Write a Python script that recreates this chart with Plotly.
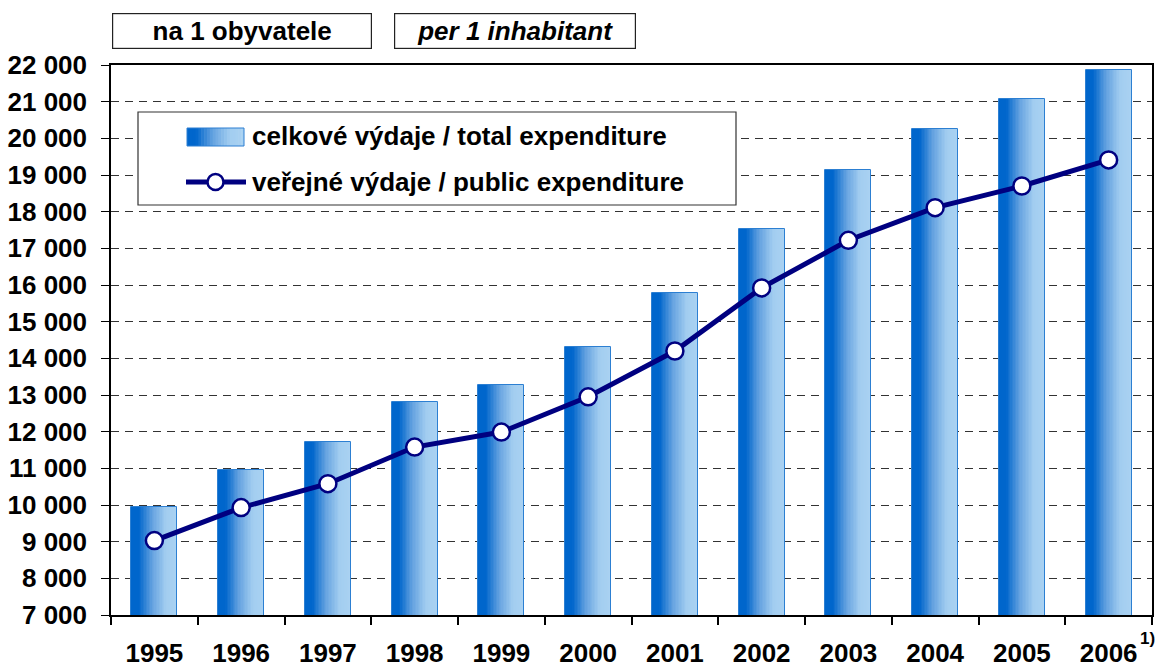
import plotly.graph_objects as go

# Per-capita expenditure, CZK
years = ["1995", "1996", "1997", "1998", "1999", "2000",
         "2001", "2002", "2003", "2004", "2005", "2006"]
total_expenditure = [9940, 10960, 11710, 12810, 13270, 14300,
                     15780, 17530, 19140, 20250, 21070, 21860]
public_expenditure = [9030, 9930, 10580, 11580, 11990, 12950,
                      14200, 15920, 17220, 18110, 18700, 19410]

label_total = "celkové výdaje / total expenditure"
label_public = "veřejné výdaje / public expenditure"
title_cz = "na 1 obyvatele"
title_en = "per 1 inhabitant"
footnote = "1)"

FONT = "Liberation Sans, Arial, sans-serif"
NAVY = "#000080"
FS = 26

# horizontal gradient used to shade the bars (left dark -> right light)
grad_stops = [(0.0, (0, 102, 204)), (0.16, (0, 102, 204)), (0.45, (100, 162, 224)),
              (0.75, (162, 205, 240)), (1.0, (170, 210, 242))]


def grad_color(t):
    for (t0, c0), (t1, c1) in zip(grad_stops[:-1], grad_stops[1:]):
        if t <= t1:
            f = 0 if t1 == t0 else (t - t0) / (t1 - t0)
            r, g, b = (round(a + (bb - a) * f) for a, bb in zip(c0, c1))
            return f"rgb({r},{g},{b})"
    r, g, b = grad_stops[-1][1]
    return f"rgb({r},{g},{b})"


fig = go.Figure()

BAR_W = 0.53
N_SLICES = 32
for i in range(N_SLICES):
    fig.add_trace(go.Bar(
        x=years, y=total_expenditure,
        base=0,
        width=BAR_W - i * BAR_W / N_SLICES,
        offset=-BAR_W / 2 + i * BAR_W / N_SLICES,
        marker=dict(color=grad_color((i + 0.5) / N_SLICES), line=dict(width=0)),
        showlegend=False, hoverinfo="skip",
    ))

# thin outline around each bar
fig.add_trace(go.Bar(
    x=years, y=total_expenditure, width=BAR_W, offset=-BAR_W / 2,
    marker=dict(color="rgba(0,0,0,0)", line=dict(color="#2C7FD2", width=1)),
    showlegend=False, name=label_total,
))

fig.add_trace(go.Scatter(
    x=years, y=public_expenditure, mode="lines+markers",
    line=dict(color=NAVY, width=5),
    marker=dict(symbol="circle", size=17, color="white",
                line=dict(color=NAVY, width=2.5)),
    showlegend=False, name=label_public,
))

# plot-area geometry in pixels (for placing the custom legend / captions)
W_PX, H_PX = 1159, 667
L, R, T, B = 111, 7, 65, 52
PW, PH = W_PX - L - R, H_PX - T - B


def px(x):
    return (x - L) / PW


def py(y):
    return (H_PX - B - y) / PH


shapes = []
annotations = []

# legend box
shapes.append(dict(type="rect", xref="paper", yref="paper",
                   x0=px(138), x1=px(736), y0=py(205), y1=py(112),
                   line=dict(color="#333333", width=1.2), fillcolor="white",
                   layer="above"))
# gradient swatch
sx0, sx1, sy0, sy1 = 187, 244, 128, 146
n_sw = 20
for i in range(n_sw):
    a = sx0 + (sx1 - sx0) * i / n_sw
    b = sx0 + (sx1 - sx0) * (i + 1) / n_sw + 0.6
    shapes.append(dict(type="rect", xref="paper", yref="paper",
                       x0=px(a), x1=px(min(b, sx1)), y0=py(sy1), y1=py(sy0),
                       line=dict(width=0), fillcolor=grad_color((i + 0.5) / n_sw),
                       layer="above"))
shapes.append(dict(type="rect", xref="paper", yref="paper",
                   x0=px(sx0), x1=px(sx1), y0=py(sy1), y1=py(sy0),
                   line=dict(color="#2C7FD2", width=1), layer="above"))
# line swatch
shapes.append(dict(type="line", xref="paper", yref="paper",
                   x0=px(186), x1=px(246), y0=py(182), y1=py(182),
                   line=dict(color=NAVY, width=5), layer="above"))
shapes.append(dict(type="circle", xref="paper", yref="paper",
                   x0=px(215.5 - 8), x1=px(215.5 + 8), y0=py(182 + 8), y1=py(182 - 8),
                   line=dict(color=NAVY, width=2.5), fillcolor="white", layer="above"))

legend_font = dict(family=FONT, size=FS, color="black")
annotations.append(dict(xref="paper", yref="paper", x=px(250), y=py(136),
                        xanchor="left", yanchor="middle", showarrow=False,
                        text=f"<b>{label_total}</b>", font=legend_font))
annotations.append(dict(xref="paper", yref="paper", x=px(250), y=py(182),
                        xanchor="left", yanchor="middle", showarrow=False,
                        text=f"<b>{label_public}</b>", font=legend_font))

# caption boxes above the plot
annotations.append(dict(xref="paper", yref="paper", x=px(241.5), y=py(30.7),
                        xanchor="center", yanchor="middle", showarrow=False,
                        text=f"<b>{title_cz}</b>", width=258, height=34, borderpad=0,
                        bordercolor="#222222", borderwidth=1.2, bgcolor="white",
                        font=dict(family=FONT, size=FS, color="black")))
annotations.append(dict(xref="paper", yref="paper", x=px(514.7), y=py(30.7),
                        xanchor="center", yanchor="middle", showarrow=False,
                        text=f"<b><i>{title_en}</i></b>", width=240, height=34, borderpad=0,
                        bordercolor="#222222", borderwidth=1.2, bgcolor="white",
                        font=dict(family=FONT, size=FS, color="black")))

# footnote marker on the last year
annotations.append(dict(xref="paper", yref="paper", x=px(1147), y=py(638),
                        xanchor="center", yanchor="middle", showarrow=False,
                        text=f"<b>{footnote}</b>",
                        font=dict(family=FONT, size=17, color="black")))

fig.update_layout(
    width=W_PX, height=H_PX,
    margin=dict(l=L, r=R, t=T, b=B, pad=0, autoexpand=False),
    paper_bgcolor="white", plot_bgcolor="white",
    barmode="overlay", bargap=0,
    separators=", ",
    font=dict(family=FONT, size=FS, color="black"),
    shapes=shapes, annotations=annotations,
    showlegend=False,
)

fig.update_xaxes(
    type="category", range=[-0.5, len(years) - 0.5],
    automargin=False,
    showline=True, linecolor="black", linewidth=1.5, mirror=True,
    ticks="outside", tickson="boundaries", ticklen=8, tickcolor="black", tickwidth=1.5,
    tickfont=dict(family=FONT, size=FS, color="black"),
    tickvals=years, ticktext=[f"<b>{y}</b>" for y in years],
    ticklabelstandoff=14,
    showgrid=False,
)
fig.update_yaxes(
    range=[7000, 22000], dtick=1000, tick0=7000, tickformat=",d",
    automargin=False,
    showline=True, linecolor="black", linewidth=1.5, mirror=True,
    ticks="outside", ticklen=8, tickcolor="black", tickwidth=1,
    tickfont=dict(family=FONT, size=FS, color="black"),
    ticklabelstandoff=9,
    showgrid=True, gridcolor="#333333", gridwidth=1, griddash="8px,6px",
    zeroline=False,
    tickprefix="<b>", ticksuffix="</b>",
)

fig.write_html("out.html")
